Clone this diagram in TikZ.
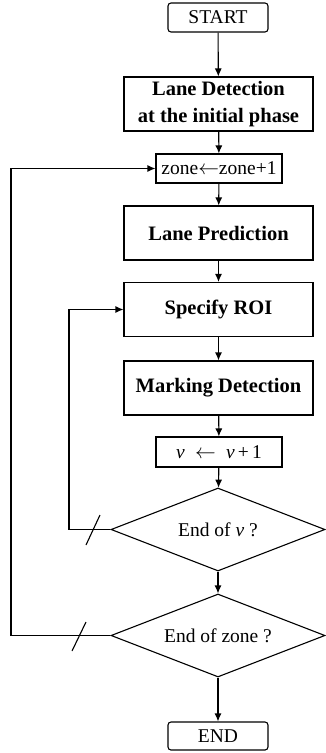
\documentclass[tikz,border=0pt]{standalone}
\usepackage{fontspec}
\setmainfont{Liberation Serif}
\usetikzlibrary{shapes.geometric,arrows.meta}
\begin{document}
\begin{tikzpicture}[x=1pt,y={(0,-1pt)},
  line width=1.1pt,
  every node/.style={font=\fontsize{19.5}{24}\selectfont, inner sep=0pt, align=center},
  term/.style={draw, rounded corners=3pt, minimum width=100pt, minimum height=29pt},
  bigbox/.style={draw, minimum width=189pt, minimum height=54pt, font=\fontsize{20.5}{27}\selectfont\bfseries},
  smallbox/.style={draw, minimum width=126pt, minimum height=29pt},
  decision/.style={draw, diamond, aspect=2.58, minimum width=214pt, minimum height=83pt},
  arr/.style={-{Latex[length=8pt,width=7pt]}}]
\useasboundingbox (0,0) rectangle (326,753);
\node[term] (start) at (218,17.5) {START};
\node[bigbox] (ld) at (218.5,104) {Lane Detection\\at the initial phase};
\node[smallbox] (zone) at (219,168.5) {zone$\leftarrow$zone+1};
\node[bigbox] (lp) at (218.5,233) {Lane Prediction};
\node[bigbox] (roi) at (218.5,309.5) {Specify ROI};
\node[bigbox] (md) at (218.5,388) {Marking Detection};
\node[smallbox, minimum height=30pt] (v) at (219,452) {\textit{v}\; $\leftarrow$ \;\textit{v}\,+\,1};
\node[decision] (d1) at (218,529.5) {End of \textit{v} ?};
\node[decision] (d2) at (218,635.5) {End of zone ?};
\node[term, minimum height=28pt] (end) at (218,736) {END};

\draw[arr] (start) -- (ld);
\draw[arr] (ld) -- (zone);
\draw[arr] (zone) -- (lp);
\draw[arr] (lp) -- (roi);
\draw[arr] (roi) -- (md);
\draw[arr] (md) -- (v);
\draw[arr] (v) -- (d1);
\draw[arr] (d1) -- (d2);
\draw[arr] (d2) -- (end);

\coordinate (c1) at (69,529.5);
\coordinate (c2) at (11,635.5);
\draw[arr] (d1.west) -- (c1) |- (roi.west);
\draw[arr] (d2.west) -- (c2) |- (zone.west);
\draw (86,545) -- (100,515);
\draw (72,651) -- (86,622);
\end{tikzpicture}
\end{document}
